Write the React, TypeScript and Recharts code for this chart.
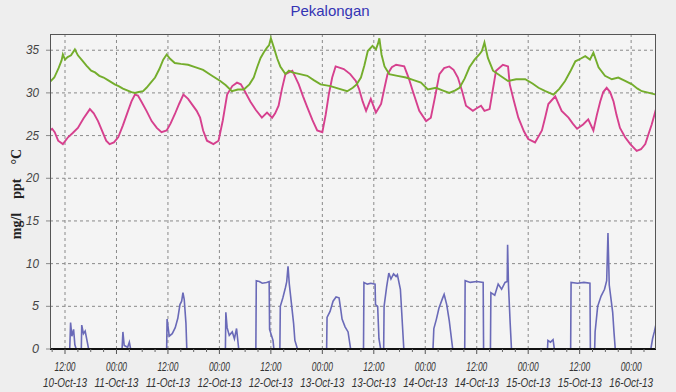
import React from 'react'
import { CartesianGrid, Line, LineChart, XAxis, YAxis } from 'recharts'

// hours counted from 00:00 10-Oct-13
const salinityHours = [
  8.5, 9.5, 10.5, 11.2, 11.5, 12.0, 12.6, 13.4, 14.3, 15.0, 16.0, 17.0, 18.1, 19.0, 20.0, 21.0, 22.0,
  23.6, 24.5, 25.5, 26.5, 27.5, 28.3, 29.2, 30.2, 31.0, 32.0, 33.0, 34.0, 34.9, 35.7, 36.5, 37.6,
  39.0, 40.7, 42.5, 44.2, 46.0, 48.2, 49.5, 50.9, 52.3, 53.7, 55.0, 56.0, 56.8, 57.6, 58.4, 59.1,
  59.6, 60.0, 60.7, 61.5, 62.2, 63.4, 64.2, 65.0, 66.8, 68.5, 70.0, 71.6, 73.9, 75.8, 77.8, 79.1,
  80.0, 81.0, 81.8, 82.6, 83.7, 84.5, 85.0, 85.3, 85.8, 86.5, 87.6, 89.5, 91.5, 93.3, 95.0, 96.6,
  98.5, 100.0, 101.6, 103.0, 104.0, 105.2, 106.3, 107.5, 108.6, 109.2, 109.8, 110.6, 111.8, 113.5,
  115.3, 117.2, 119.3, 121.0, 122.4, 124.0, 125.9, 127.3, 128.6, 129.8, 131.0, 132.2, 133.3, 134.4,
  135.2, 136.4, 137.9, 139.5, 141.0, 142.6, 144.2, 145.5, 146.5, 148.2, 149.8,
]
const salinity = [
  31.3, 31.8, 32.9, 33.8, 34.5, 33.9, 34.2, 34.4, 35.1, 34.4, 33.8, 33.2, 32.6, 32.4, 32.0, 31.8, 31.5,
  31.0, 30.8, 30.5, 30.3, 30.1, 30.0, 30.1, 30.2, 30.6, 31.2, 31.8, 32.8, 33.9, 34.5, 34.0, 33.5,
  33.4, 33.3, 33.0, 32.7, 32.1, 31.4, 30.9, 30.2, 30.4, 30.4, 31.0, 31.8, 33.0, 34.1, 34.8, 35.3,
  35.6, 36.4, 35.3, 34.0, 33.1, 32.2, 32.6, 32.4, 32.2, 32.0, 31.5, 31.0, 30.8, 30.5, 30.2, 30.6,
  31.0, 31.8, 33.2, 34.9, 35.5, 35.1, 35.8, 36.4, 34.5, 33.1, 32.2, 32.0, 31.8, 31.5, 31.2, 30.4,
  30.6, 30.3, 30.0, 30.3, 30.6, 31.7, 33.0, 33.9, 34.5, 34.9, 35.9, 34.1, 32.6, 32.0,
  31.4, 31.6, 31.6, 31.1, 30.6, 30.2, 29.8, 30.5, 31.4, 32.5, 33.7, 34.0, 34.3, 33.9,
  34.7, 33.0, 32.0, 31.6, 31.8, 31.4, 31.0, 30.5, 30.2, 30.0, 29.8,
]

const tempHours = [
  8.5, 9.0, 9.6, 10.4, 11.5, 12.7, 13.8, 15.0, 16.3, 17.8, 18.7, 19.7, 20.7, 21.6, 22.4, 23.4, 24.4,
  25.5, 26.7, 27.5, 28.3, 29.0, 29.8, 31.0, 32.2, 33.4, 34.5, 35.7, 36.6, 37.6, 38.6, 39.6, 40.7,
  41.7, 42.7, 43.5, 44.2, 45.1, 46.6, 47.8, 48.8, 49.8, 51.0, 52.1, 53.0, 53.7, 55.2, 56.5, 57.9,
  59.1, 60.3, 61.0, 61.8, 62.6, 63.4, 65.0, 66.5, 67.5, 68.5, 69.7, 70.8, 72.0, 72.8, 73.5, 74.3,
  75.1, 77.0, 78.5, 79.8, 80.6, 81.4, 82.2, 83.3, 84.5, 85.7, 86.5, 87.2, 88.2, 89.2, 91.1, 92.1,
  93.1, 94.6, 96.2, 97.3, 98.3, 99.3, 100.4, 101.6, 102.6, 103.6, 104.6, 105.5, 107.1, 108.0, 109.0,
  109.8, 111.0, 111.8, 112.5, 114.1, 115.3, 115.7, 116.7, 117.7, 119.0, 120.0, 121.6, 123.2, 124.0,
  124.7, 126.3, 127.0, 127.8, 129.4, 130.4, 131.4, 132.8, 134.0, 135.2, 136.0, 136.8, 137.5, 138.3,
  139.1, 139.9, 140.6, 141.4, 142.6, 143.8, 145.3, 146.3, 147.3, 148.0, 148.8, 149.8,
]
const temperature = [
  25.6, 25.8, 25.4, 24.4, 24.0, 24.8, 25.3, 25.9, 27.0, 28.1, 27.6, 26.7, 25.5, 24.4, 24.0, 24.2, 24.8,
  26.2, 27.9, 29.0, 29.8, 29.7, 29.0, 27.9, 26.7, 25.9, 25.4, 25.6, 26.4, 27.5, 28.7, 29.8, 29.3,
  28.6, 27.9, 27.1, 25.6, 24.4, 24.0, 24.4, 26.8, 29.8, 30.8, 31.2, 31.0, 30.4, 29.0, 28.0, 27.1,
  27.7, 27.1, 27.6, 28.5, 30.5, 32.2, 32.6, 31.0, 29.6, 28.3, 26.8, 25.6, 25.4, 27.5, 29.8, 31.8,
  33.1, 32.8, 32.2, 31.4, 30.4, 29.0, 27.9, 29.3, 27.7, 28.7, 30.6, 32.2, 33.0, 33.3, 33.1, 31.8,
  30.2, 27.9, 26.7, 27.1, 29.6, 32.2, 32.9, 33.1, 32.7, 31.8, 30.2, 28.5, 27.9, 28.2, 28.5,
  27.9, 28.1, 30.5, 32.6, 33.3, 33.1, 31.0, 29.0, 27.1, 25.5, 24.6, 24.2, 25.6, 27.2,
  28.7, 29.6, 28.8, 27.9, 27.1, 26.4, 25.8, 26.3, 26.9, 25.6, 27.4, 29.0, 30.1, 30.6,
  30.1, 29.0, 27.4, 25.9, 24.8, 24.0, 23.2, 23.4, 24.0, 25.1, 26.3, 28.1,
]

const oxygenHours = [
  8.5, 13.1, 13.3, 13.6, 14.0, 14.3, 14.6, 15.8, 15.9, 16.3, 16.7, 17.2, 17.5, 25.3, 25.5, 25.8,
  26.6, 27.0, 27.3, 35.7, 35.8, 36.3, 37.0, 37.7, 38.3, 38.8, 39.2, 39.5, 39.8, 40.2, 40.4, 49.4,
  49.5, 49.8, 50.3, 51.0, 51.5, 52.0, 52.5, 56.5, 56.6, 57.3, 58.0, 59.0, 59.6, 59.7, 60.5, 60.7,
  62.1, 62.2, 62.8, 63.4, 63.7, 64.0, 64.3, 65.3, 65.6, 66.2, 73.0, 73.1, 73.8, 74.5, 75.2, 75.9,
  76.3, 76.6, 77.3, 78.0, 78.6, 81.6, 81.7, 82.5, 83.3, 84.3, 84.4, 84.9, 85.2, 85.6, 86.3, 86.4,
  87.0, 87.5, 88.0, 88.6, 89.2, 89.5, 90.2, 91.0, 97.8, 98.0, 98.6, 99.2, 100.0, 100.4, 101.0,
  101.6, 102.4, 105.2, 105.3, 106.5, 108.0, 109.5, 109.6, 111.2, 111.3, 112.2, 113.0, 113.8, 114.6,
  115.1, 115.2, 115.4, 115.8, 116.1, 124.5, 124.6, 125.2, 125.8, 126.1, 129.9, 130.0, 131.5, 133.0,
  134.4, 134.5, 135.5, 135.6, 136.2, 137.0, 137.8, 138.3, 138.6, 138.9, 139.7, 140.0, 140.3, 148.6,
  149.0, 149.4, 149.8,
]
const oxygen = [
  0, 0, 3.1, 1.5, 2.3, 0.5, 0, 0, 2.8, 1.8, 2.1, 0.8, 0, 0, 2.0, 0.4,
  0.2, 0.8, 0, 0, 3.5, 1.5, 1.8, 2.5, 3.6, 5.2, 5.6, 6.6, 5.8, 3.0, 0, 0,
  4.3, 2.5, 1.6, 2.0, 1.2, 2.4, 0, 0, 8.0, 7.9, 7.7, 7.8, 7.9, 2.3, 1.0, 0,
  0, 5.0, 6.0, 7.2, 7.9, 9.7, 7.6, 3.0, 1.0, 0, 0, 3.7, 4.4, 5.6, 6.1, 6.0,
  4.6, 3.5, 2.6, 2.0, 0, 0, 7.8, 7.6, 7.7, 7.6, 5.2, 5.0, 1.2, 0, 0, 5.0,
  7.3, 8.9, 8.2, 8.8, 8.5, 8.7, 7.0, 0, 0, 2.4, 3.5, 4.8, 5.9, 6.4, 5.2,
  3.3, 0, 0, 8.0, 7.8, 7.9, 7.8, 0, 0, 6.6, 6.3, 7.6, 7.0, 7.8,
  7.9, 12.2, 7.5, 3.0, 0, 0, 1.0, 0.8, 1.1, 0, 0, 7.8, 7.7, 7.8,
  7.7, 0, 0, 2.0, 5.0, 6.2, 7.0, 8.0, 13.6, 7.5, 4.3, 2.0, 0, 0,
  1.2, 2.0, 2.9,
]

const yTicks = [0, 5, 10, 15, 20, 25, 30, 35]
const majorHours = [12, 24, 36, 48, 60, 72, 84, 96, 108, 120, 132, 144]
const minorHours = [
  9, 12, 15, 18, 21, 24, 27, 30, 33, 36, 39, 42, 45, 48, 51, 54, 57, 60, 63, 66, 69, 72, 75, 78, 81,
  84, 87, 90, 93, 96, 99, 102, 105, 108, 111, 114, 117, 120, 123, 126, 129, 132, 135, 138, 141, 144,
  147,
]

const zip = (hours: number[], values: number[]) => hours.map((h, i) => ({ h, v: values[i] }))

const labelFont = "'Liberation Sans', Arial, sans-serif"

function TimeTick(props: any) {
  const { x, y, payload } = props
  const h = payload.value as number
  const major = h % 12 === 0
  if (!major) {
    return <line x1={x} x2={x} y1={y} y2={y + 3} stroke="#666" />
  }
  const day = 10 + Math.floor(h / 24)
  return (
    <g>
      <line x1={x} x2={x} y1={y} y2={y + 5} stroke="#555" />
      <text
        x={x}
        y={y + 22}
        textAnchor="middle"
        fontSize={12}
        fontStyle="italic"
        fontFamily={labelFont}
        fill="#333"
        textLength={21}
        lengthAdjust="spacingAndGlyphs"
      >
        {h % 24 === 12 ? '12:00' : '00:00'}
      </text>
      <text
        x={x}
        y={y + 38}
        textAnchor="middle"
        fontSize={12}
        fontStyle="italic"
        fontFamily={labelFont}
        fill="#333"
        textLength={44}
        lengthAdjust="spacingAndGlyphs"
      >
        {`${day}-Oct-13`}
      </text>
    </g>
  )
}

function ValueTick(props: any) {
  const { x, y, payload } = props
  return (
    <text
      x={x}
      y={y + 4}
      textAnchor="end"
      fontSize={12}
      fontStyle="italic"
      fontFamily={labelFont}
      fill="#444"
      textLength={payload.value < 10 ? 7 : 13}
      lengthAdjust="spacingAndGlyphs"
    >
      {payload.value}
    </text>
  )
}

export default function App() {
  return (
    <div
      style={{
        position: 'fixed',
        left: 0,
        top: 0,
        width: 676,
        height: 392,
        background: '#eeeeee',
        overflow: 'hidden',
      }}
    >
      <div
        style={{
          position: 'absolute',
          left: 0,
          width: 660,
          top: 2,
          textAlign: 'center',
          fontFamily: "'Liberation Sans', Arial, sans-serif",
          fontSize: 15,
          color: '#3434b4',
        }}
      >
        Pekalongan
      </div>
      <div
        style={{
          position: 'absolute',
          left: 17,
          top: 194,
          transform: 'translate(-50%, -50%) rotate(-90deg)',
          whiteSpace: 'pre',
          fontFamily: "'Liberation Serif', 'Times New Roman', serif",
          fontWeight: 700,
          fontSize: 14,
          color: '#222',
        }}
      >
        {'mg/l    ppt    °C'}
      </div>
      <div style={{ position: 'absolute', left: 0, top: 0 }}>
        <LineChart width={676} height={392} margin={{ top: 34, right: 20, bottom: 0, left: 20 }}>
          <CartesianGrid
            fill="#f4f4f4"
            stroke="#8a8a8a"
            strokeDasharray="3 3"
            horizontalValues={[5, 10, 15, 20, 25, 30, 35]}
            verticalValues={majorHours}
          />
          <XAxis
            type="number"
            dataKey="h"
            domain={[8.5, 149.8]}
            allowDataOverflow
            ticks={minorHours}
            interval={0}
            tick={<TimeTick />}
            tickSize={0}
            tickMargin={0}
            height={43}
            axisLine={{ stroke: '#111', strokeWidth: 2 }}
          />
          <YAxis
            type="number"
            domain={[0, 36.9]}
            allowDataOverflow
            ticks={yTicks}
            width={30}
            axisLine={false}
            tickSize={4}
            tickMargin={7}
            tickLine={{ stroke: '#888' }}
            tick={<ValueTick />}
          />
          <Line
            data={zip(oxygenHours, oxygen)}
            dataKey="v"
            stroke="#6a6ab8"
            strokeWidth={1.6}
            dot={false}
            isAnimationActive={false}
          />
          <Line
            data={zip(tempHours, temperature)}
            dataKey="v"
            stroke="#d6408e"
            strokeWidth={1.9}
            dot={false}
            isAnimationActive={false}
          />
          <Line
            data={zip(salinityHours, salinity)}
            dataKey="v"
            stroke="#74ad2c"
            strokeWidth={1.9}
            dot={false}
            isAnimationActive={false}
          />
        </LineChart>
      </div>
      <div
        style={{
          position: 'absolute',
          left: 50,
          top: 34,
          width: 606,
          height: 315,
          border: '1px solid #555',
          borderBottom: 'none',
          boxSizing: 'border-box',
          pointerEvents: 'none',
        }}
      />
    </div>
  )
}
